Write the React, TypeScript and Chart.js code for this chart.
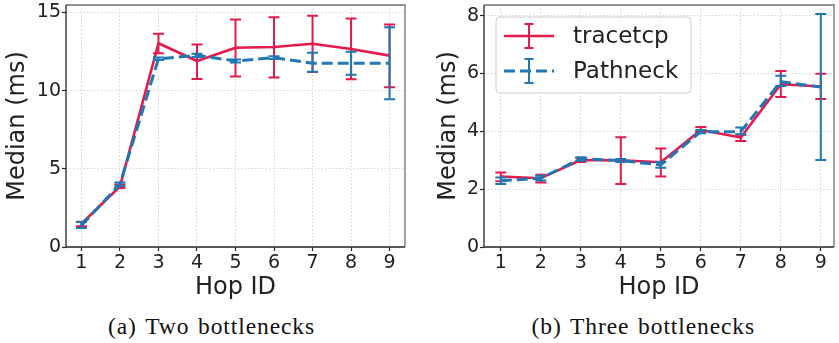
import React, { useEffect, useRef } from "react";
import { Chart, registerables } from "chart.js";

Chart.register(...registerables);

// ---------- data ----------
const hopIds = [1, 2, 3, 4, 5, 6, 7, 8, 9];
const seriesNames = ["tracetcp", "Pathneck"];
const yAxisTitle = "Median (ms)";
const xAxisTitle = "Hop ID";

// (a) Two bottlenecks
const twoTicksY = [0, 5, 10, 15];
const twoTracetcpMedian = [1.49, 3.87, 13.03, 11.9, 12.75, 12.79, 13.0, 12.66, 12.24];
const twoTracetcpLow = [1.33, 3.77, 12.39, 10.75, 10.9, 10.85, 11.19, 10.73, 10.22];
const twoTracetcpHigh = [1.62, 4.0, 13.64, 12.96, 14.56, 14.69, 14.79, 14.62, 14.24];
const twoPathneckMedian = [1.38, 4.02, 12.04, 12.26, 11.9, 12.11, 11.75, 11.75, 11.75];
const twoPathneckLow = [1.22, 3.9, 11.96, 12.16, 11.8, 12.02, 11.21, 11.02, 9.45];
const twoPathneckHigh = [1.6, 4.12, 12.12, 12.36, 12.0, 12.2, 12.43, 12.49, 14.05];

// (b) Three bottlenecks
const threeTicksY = [0, 2, 4, 6, 8];
const threeTracetcpMedian = [2.44, 2.38, 3.01, 3.0, 2.93, 4.05, 3.79, 5.63, 5.55];
const threeTracetcpLow = [2.27, 2.23, 2.94, 2.18, 2.44, 3.98, 3.67, 5.19, 5.12];
const threeTracetcpHigh = [2.58, 2.5, 3.08, 3.8, 3.41, 4.15, 3.88, 6.09, 5.99];
const threePathneckMedian = [2.29, 2.38, 3.05, 2.99, 2.84, 3.99, 3.99, 5.72, 5.53];
const threePathneckLow = [2.18, 2.3, 2.98, 2.94, 2.74, 3.93, 3.9, 5.57, 3.01];
const threePathneckHigh = [2.4, 2.46, 3.1, 3.04, 2.94, 4.05, 4.13, 5.92, 8.06];

const captionA = "(a) Two bottlenecks";
const captionB = "(b) Three bottlenecks";

// ---------- styles ----------
const RED = "#e41a4c";
const BLUE = "#1f77b4";
const TEXT = "#222222";
const FONT = "'DejaVu Sans', sans-serif";
const BLUE_DASH = [11, 5];

type PanelSpec = {
  tracetcp: number[];
  tracetcpLow: number[];
  tracetcpHigh: number[];
  pathneck: number[];
  pathneckLow: number[];
  pathneckHigh: number[];
  yTicks: number[];
  yMax: number;
  xMin: number;
  xMax: number;
  yAxisWidth: number;
  padRight: number;
  legend: boolean;
};

function makeConfig(spec: PanelSpec): any {
  const lows = [spec.tracetcpLow, spec.pathneckLow];
  const highs = [spec.tracetcpHigh, spec.pathneckHigh];

  const errorBars = {
    id: "errorBars",
    afterDatasetDraw(chart: any, args: any) {
      const i = args.index;
      const ds = chart.data.datasets[i];
      const { ctx } = chart;
      const xs = chart.scales.x;
      const ys = chart.scales.y;
      ctx.save();
      ctx.strokeStyle = ds.borderColor;
      ctx.lineWidth = 2;
      ctx.setLineDash([]);
      const cap = 5.5;
      ds.data.forEach((p: any, k: number) => {
        const px = xs.getPixelForValue(p.x);
        const yl = ys.getPixelForValue(lows[i][k]);
        const yh = ys.getPixelForValue(highs[i][k]);
        ctx.beginPath();
        ctx.moveTo(px, yl);
        ctx.lineTo(px, yh);
        ctx.moveTo(px - cap, yl);
        ctx.lineTo(px + cap, yl);
        ctx.moveTo(px - cap, yh);
        ctx.lineTo(px + cap, yh);
        ctx.stroke();
      });
      ctx.restore();
    },
  };

  const frame = {
    id: "frame",
    afterDatasetsDraw(chart: any) {
      const { ctx, chartArea: a } = chart;
      ctx.save();
      ctx.setLineDash([]);
      ctx.lineWidth = 1.3;
      ctx.strokeStyle = "#707070";
      ctx.beginPath();
      ctx.moveTo(a.left, a.top);
      ctx.lineTo(a.right, a.top);
      ctx.lineTo(a.right, a.bottom);
      ctx.stroke();
      ctx.strokeStyle = "#262626";
      ctx.beginPath();
      ctx.moveTo(a.left, a.top);
      ctx.lineTo(a.left, a.bottom);
      ctx.lineTo(a.right, a.bottom);
      ctx.stroke();
      ctx.restore();
    },
  };

  const legend = {
    id: "customLegend",
    afterDraw(chart: any) {
      if (!spec.legend) return;
      const { ctx, chartArea: a } = chart;
      const bx = a.left + 12;
      const by = a.top + 12;
      const bw = 195;
      const bh = 76;
      ctx.save();
      ctx.beginPath();
      const r = 4;
      ctx.moveTo(bx + r, by);
      ctx.arcTo(bx + bw, by, bx + bw, by + bh, r);
      ctx.arcTo(bx + bw, by + bh, bx, by + bh, r);
      ctx.arcTo(bx, by + bh, bx, by, r);
      ctx.arcTo(bx, by, bx + bw, by, r);
      ctx.closePath();
      ctx.fillStyle = "rgba(255,255,255,0.8)";
      ctx.fill();
      ctx.strokeStyle = "#cccccc";
      ctx.lineWidth = 1;
      ctx.stroke();
      chart.data.datasets.forEach((ds: any, i: number) => {
        const cy = by + 19 + i * 35;
        ctx.strokeStyle = ds.borderColor;
        ctx.lineWidth = ds.borderWidth;
        ctx.setLineDash(ds.borderDash || []);
        ctx.beginPath();
        ctx.moveTo(bx + 8, cy);
        ctx.lineTo(bx + 58, cy);
        ctx.stroke();
        ctx.setLineDash([]);
        ctx.lineWidth = 2;
        const cx = bx + 33;
        ctx.beginPath();
        ctx.moveTo(cx, cy - 12);
        ctx.lineTo(cx, cy + 12);
        ctx.moveTo(cx - 4.5, cy - 12);
        ctx.lineTo(cx + 4.5, cy - 12);
        ctx.moveTo(cx - 4.5, cy + 12);
        ctx.lineTo(cx + 4.5, cy + 12);
        ctx.stroke();
        ctx.fillStyle = TEXT;
        ctx.font = `23px ${FONT}`;
        ctx.textBaseline = "middle";
        ctx.textAlign = "left";
        ctx.fillText(ds.label, bx + 77, cy + 1);
      });
      ctx.restore();
    },
  };

  const gridCommon = {
    color: "#d4d4d4",
    lineWidth: 1,
    tickLength: 4,
    tickColor: "#262626",
    tickWidth: 1.2,
    tickBorderDash: [],
    drawTicks: true,
  };

  return {
    type: "line",
    data: {
      datasets: [
        {
          label: seriesNames[0],
          data: hopIds.map((x, k) => ({ x, y: spec.tracetcp[k] })),
          borderColor: RED,
          backgroundColor: RED,
          borderWidth: 2.6,
          borderJoinStyle: "round",
          pointRadius: 0,
          tension: 0,
          order: 2,
          clip: false,
        },
        {
          label: seriesNames[1],
          data: hopIds.map((x, k) => ({ x, y: spec.pathneck[k] })),
          borderColor: BLUE,
          backgroundColor: BLUE,
          borderWidth: 3,
          borderDash: BLUE_DASH,
          borderJoinStyle: "round",
          pointRadius: 0,
          tension: 0,
          order: 1,
          clip: false,
        },
      ],
    },
    options: {
      responsive: false,
      animation: false,
      devicePixelRatio: 1,
      layout: { padding: { top: 5, right: spec.padRight, left: 0, bottom: 0 } },
      plugins: { legend: { display: false }, tooltip: { enabled: false } },
      scales: {
        x: {
          type: "linear",
          min: spec.xMin,
          max: spec.xMax,
          afterBuildTicks: (s: any) => {
            s.ticks = hopIds.map((v) => ({ value: v }));
          },
          afterFit: (s: any) => {
            s.height = 58;
            s.paddingLeft = 0;
            s.paddingRight = 0;
          },
          grid: gridCommon,
          border: { display: false, dash: [1.5, 2] },
          ticks: {
            color: TEXT,
            font: { family: FONT, size: 19 },
            padding: 1,
            maxRotation: 0,
            autoSkip: false,
            callback: (v: any) => String(v),
          },
          title: {
            display: true,
            text: xAxisTitle,
            color: TEXT,
            font: { family: FONT, size: 24 },
            padding: { top: 0, bottom: 3 },
          },
        },
        y: {
          type: "linear",
          min: 0,
          max: spec.yMax,
          afterBuildTicks: (s: any) => {
            s.ticks = spec.yTicks.map((v) => ({ value: v }));
          },
          afterFit: (s: any) => {
            s.width = spec.yAxisWidth;
            s.paddingTop = 0;
            s.paddingBottom = 0;
          },
          grid: gridCommon,
          border: { display: false, dash: [1.5, 2] },
          ticks: {
            color: TEXT,
            font: { family: FONT, size: 19 },
            padding: 1,
            autoSkip: false,
            callback: (v: any) => String(v),
          },
          title: {
            display: true,
            text: yAxisTitle,
            color: TEXT,
            font: { family: FONT, size: 24 },
            padding: { top: 3, bottom: 0 },
          },
        },
      },
    },
    plugins: [errorBars, frame, legend],
  };
}

function Panel({ spec, left, width, height }: { spec: PanelSpec; left: number; width: number; height: number }) {
  const ref = useRef<HTMLCanvasElement | null>(null);
  useEffect(() => {
    if (!ref.current) return;
    const chart = new Chart(ref.current, makeConfig(spec));
    return () => chart.destroy();
  }, []);
  return (
    <canvas
      ref={ref}
      width={width}
      height={height}
      style={{ position: "absolute", left, top: 0, width, height }}
    />
  );
}

function Caption({ text, center }: { text: string; center: number }) {
  return (
    <div
      style={{
        position: "absolute",
        left: center - 160,
        width: 320,
        top: 314.5,
        textAlign: "center",
        fontFamily: "'Liberation Serif', serif",
        fontSize: 23.5,
        lineHeight: "23.5px",
        letterSpacing: "0.9px",
        wordSpacing: "2px",
        color: "#111",
        whiteSpace: "nowrap",
      }}
    >
      {text}
    </div>
  );
}

const specA: PanelSpec = {
  tracetcp: twoTracetcpMedian,
  tracetcpLow: twoTracetcpLow,
  tracetcpHigh: twoTracetcpHigh,
  pathneck: twoPathneckMedian,
  pathneckLow: twoPathneckLow,
  pathneckHigh: twoPathneckHigh,
  yTicks: twoTicksY,
  yMax: 15.48,
  xMin: 0.6,
  xMax: 9.4,
  yAxisWidth: 66,
  padRight: 15,
  legend: false,
};

const specB: PanelSpec = {
  tracetcp: threeTracetcpMedian,
  tracetcpLow: threeTracetcpLow,
  tracetcpHigh: threeTracetcpHigh,
  pathneck: threePathneckMedian,
  pathneckLow: threePathneckLow,
  pathneckHigh: threePathneckHigh,
  yTicks: threeTicksY,
  yMax: 8.37,
  xMin: 0.58,
  xMax: 9.33,
  yAxisWidth: 53,
  padRight: 5,
  legend: true,
};

export default function App() {
  return (
    <div
      style={{
        position: "absolute",
        left: 0,
        top: 0,
        width: 839,
        height: 343,
        background: "#fff",
        overflow: "hidden",
      }}
    >
      <Panel spec={specA} left={0} width={420} height={305} />
      <Panel spec={specB} left={431} width={408} height={305} />
      <Caption text={captionA} center={211.5} />
      <Caption text={captionB} center={643.3} />
    </div>
  );
}
